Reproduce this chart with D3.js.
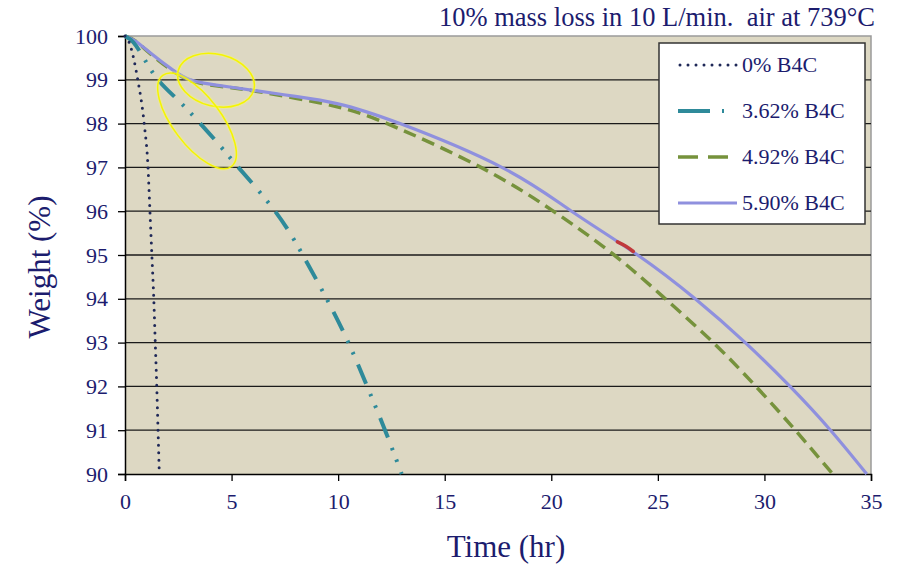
<!DOCTYPE html>
<html><head><meta charset="utf-8">
<script src="https://cdn.jsdelivr.net/npm/d3@7"></script>
<style>body{margin:0;background:#fff}svg{display:block}</style>
</head><body>
<script>
// ---- data ----
const titleText = "10% mass loss in 10 L/min.\u00a0 air at 739°C";
const xLabel = "Time (hr)";
const yLabel = "Weight (%)";
const xTicks = [0,5,10,15,20,25,30,35];
const yTicks = [90,91,92,93,94,95,96,97,98,99,100];
const seriesNames = ["0% B4C","3.62% B4C","4.92% B4C","5.90% B4C"];

const s0 = [[0,100],[0.2,99.85],[0.4,99.5],[0.6,99.0],[0.9,98.0],[1.08,97.0],[1.17,96.0],[1.26,95.0],[1.35,94.0],[1.42,93.0],[1.49,92.0],[1.55,91.0],[1.61,90.0]];
const s362 = [[0,100],[0.4,99.85],[0.9,99.48],[1.55,99.0],[2.5,98.53],[3.5,98.02],[4.5,97.47],[5.32,97.0],[7.04,96.0],[8.34,95.0],[9.46,94.0],[10.48,93.0],[11.36,92.0],[12.2,91.0],[12.98,90.0]];
const s492 = [[0,100],[0.5,99.88],[1.3,99.55],[2.25,99.2],[3.05,98.99],[4,98.88],[5,98.82],[6,98.75],[8,98.58],[10,98.38],[12.3,98.0],[16.7,97.0],[20.1,96.0],[22.95,95.0],[25.35,94.0],[27.6,93.0],[29.6,92.0],[31.45,91.0],[33.2,90.0]];
const s590 = [[0,100],[0.5,99.88],[1.3,99.57],[2.25,99.22],[3.05,99.0],[4,98.9],[5,98.83],[6,98.76],[8,98.62],[10,98.45],[12.9,98.0],[17.68,97.0],[20.95,96.0],[24.05,95.0],[26.75,94.0],[29.1,93.0],[31.2,92.0],[33.1,91.0],[34.8,90.0]];
const redMark = [[23.1,95.3],[23.5,95.2],[23.85,95.08]];
// annotation ellipses: centre (time, weight)
const ellipseCentres = [[4.27,98.99],[3.38,98.06]];

// ---- layout ----
const W = 907, H = 565;
const svg = d3.select("body").append("svg").attr("width",W).attr("height",H);
const x = d3.scaleLinear().domain([0,35]).range([125,871]);
const y = d3.scaleLinear().domain([90,100]).range([474,36]);
const navy = "#1c1c6e";
const serif = "'Liberation Serif', Tinos, 'Times New Roman', 'DejaVu Serif', 'Noto Serif', serif";

// plot background
svg.append("rect").attr("x",x(0)).attr("y",y(100)).attr("width",x(35)-x(0)).attr("height",y(90)-y(100))
  .attr("fill","#ddd8c3");
svg.append("path").attr("d",`M${x(0)},${y(100)}H${x(35)}V${y(90)}`).attr("fill","none").attr("stroke","#9a9a9a").attr("stroke-width",1.5);
svg.append("g").selectAll("line").data(yTicks.filter(d=>d>90 && d<100)).join("line")
  .attr("x1",x(0)).attr("x2",x(35)).attr("y1",d=>y(d)).attr("y2",d=>y(d))
  .attr("stroke","#1a1a1a").attr("stroke-width",1.3);

// axes
const yAxis = d3.axisLeft(y).tickValues(yTicks).tickSize(7).tickPadding(10).tickFormat(d3.format("d"));
const xAxis = d3.axisBottom(x).tickValues(xTicks).tickSize(7).tickPadding(12).tickFormat(d3.format("d"));
const gy = svg.append("g").attr("transform",`translate(${x(0)},0)`).call(yAxis);
const gx = svg.append("g").attr("transform",`translate(0,${y(90)})`).call(xAxis);
[gx,gy].forEach(g=>{
  g.attr("font-family",null).attr("font-size",null);
  g.select(".domain").attr("stroke","#000").attr("stroke-width",1.5);
  g.selectAll(".tick line").attr("stroke","#000").attr("stroke-width",1.3);
  g.selectAll("text").attr("fill",navy).style("font-family",serif).style("font-size","22px");
});

// lines
const lineSmooth = d3.line().x(d=>x(d[0])).y(d=>y(d[1])).curve(d3.curveNatural);
const lineMono = d3.line().x(d=>x(d[0])).y(d=>y(d[1])).curve(d3.curveMonotoneX);
const styles = [
  {data:s0, color:"#1f2858", width:3, dash:"0,7.5", cap:"round", gen:lineMono},
  {data:s362, color:"#2e8a9a", width:4, dash:"21,11,2.5,10,2.5,11", cap:"butt", gen:lineSmooth},
  {data:s492, color:"#76923c", width:3.5, dash:"13,7", cap:"butt", gen:lineSmooth},
  {data:s590, color:"#8f90de", width:3.2, dash:null, cap:"butt", gen:lineSmooth}
];
const drawOrder = [2,3,1,0];
drawOrder.forEach(i=>{
  const s = styles[i];
  svg.append("path").datum(s.data).attr("d",s.gen).attr("fill","none")
    .attr("stroke",s.color).attr("stroke-width",s.width)
    .attr("stroke-dasharray",s.dash).attr("stroke-linecap",s.cap);
});
svg.append("path").datum(redMark).attr("d",lineMono).attr("fill","none")
  .attr("stroke","#c0393b").attr("stroke-width",3.5).attr("stroke-linecap","round");

// yellow ellipses
const ell = [{c:ellipseCentres[0], rx:39, ry:26, rot:14},{c:ellipseCentres[1], rx:57, ry:24, rot:53}];
ell.forEach(e=>{
  const g = svg.append("g").attr("transform",`translate(${x(e.c[0])},${y(e.c[1])}) rotate(${e.rot})`);
  g.append("ellipse").attr("rx",e.rx).attr("ry",e.ry).attr("fill","none").attr("stroke","#ffff66").attr("stroke-width",4).attr("opacity",0.3);
  g.append("ellipse").attr("rx",e.rx).attr("ry",e.ry).attr("fill","none").attr("stroke","#f5f500").attr("stroke-width",1.5);
});

// legend
const lg = svg.append("g");
lg.append("rect").attr("x",659).attr("y",43).attr("width",206).attr("height",181)
  .attr("fill","#fff").attr("stroke","#333").attr("stroke-width",1.5);
const rowY = [65,111,157,203];
seriesNames.forEach((name,i)=>{
  const s = styles[i];
  const ly = rowY[i];
  let dash = s.dash;
  if(i===0) dash = "0,8";
  if(i===1) dash = "32,12,2,20";
  if(i===2) dash = "20,10,20";
  lg.append("line").attr("x1",i===0?680:678).attr("x2",737).attr("y1",ly).attr("y2",ly)
    .attr("stroke",s.color).attr("stroke-width",s.width).attr("stroke-dasharray",dash).attr("stroke-linecap",s.cap);
  lg.append("text").attr("x",742).attr("y",ly+7).text(name)
    .attr("fill",navy).style("font-family",serif).style("font-size","22px");
});

// titles
svg.append("text").attr("x",875).attr("y",26).attr("text-anchor","end").text(titleText)
  .attr("fill",navy).style("font-family",serif).style("font-size","26.5px");
svg.append("text").attr("x",506).attr("y",557).attr("text-anchor","middle").text(xLabel)
  .attr("fill",navy).style("font-family",serif).style("font-size","31px");
svg.append("text").attr("transform","translate(50,267) rotate(-90)").attr("text-anchor","middle").text(yLabel)
  .attr("fill",navy).style("font-family",serif).style("font-size","31px");
</script>
</body></html>
